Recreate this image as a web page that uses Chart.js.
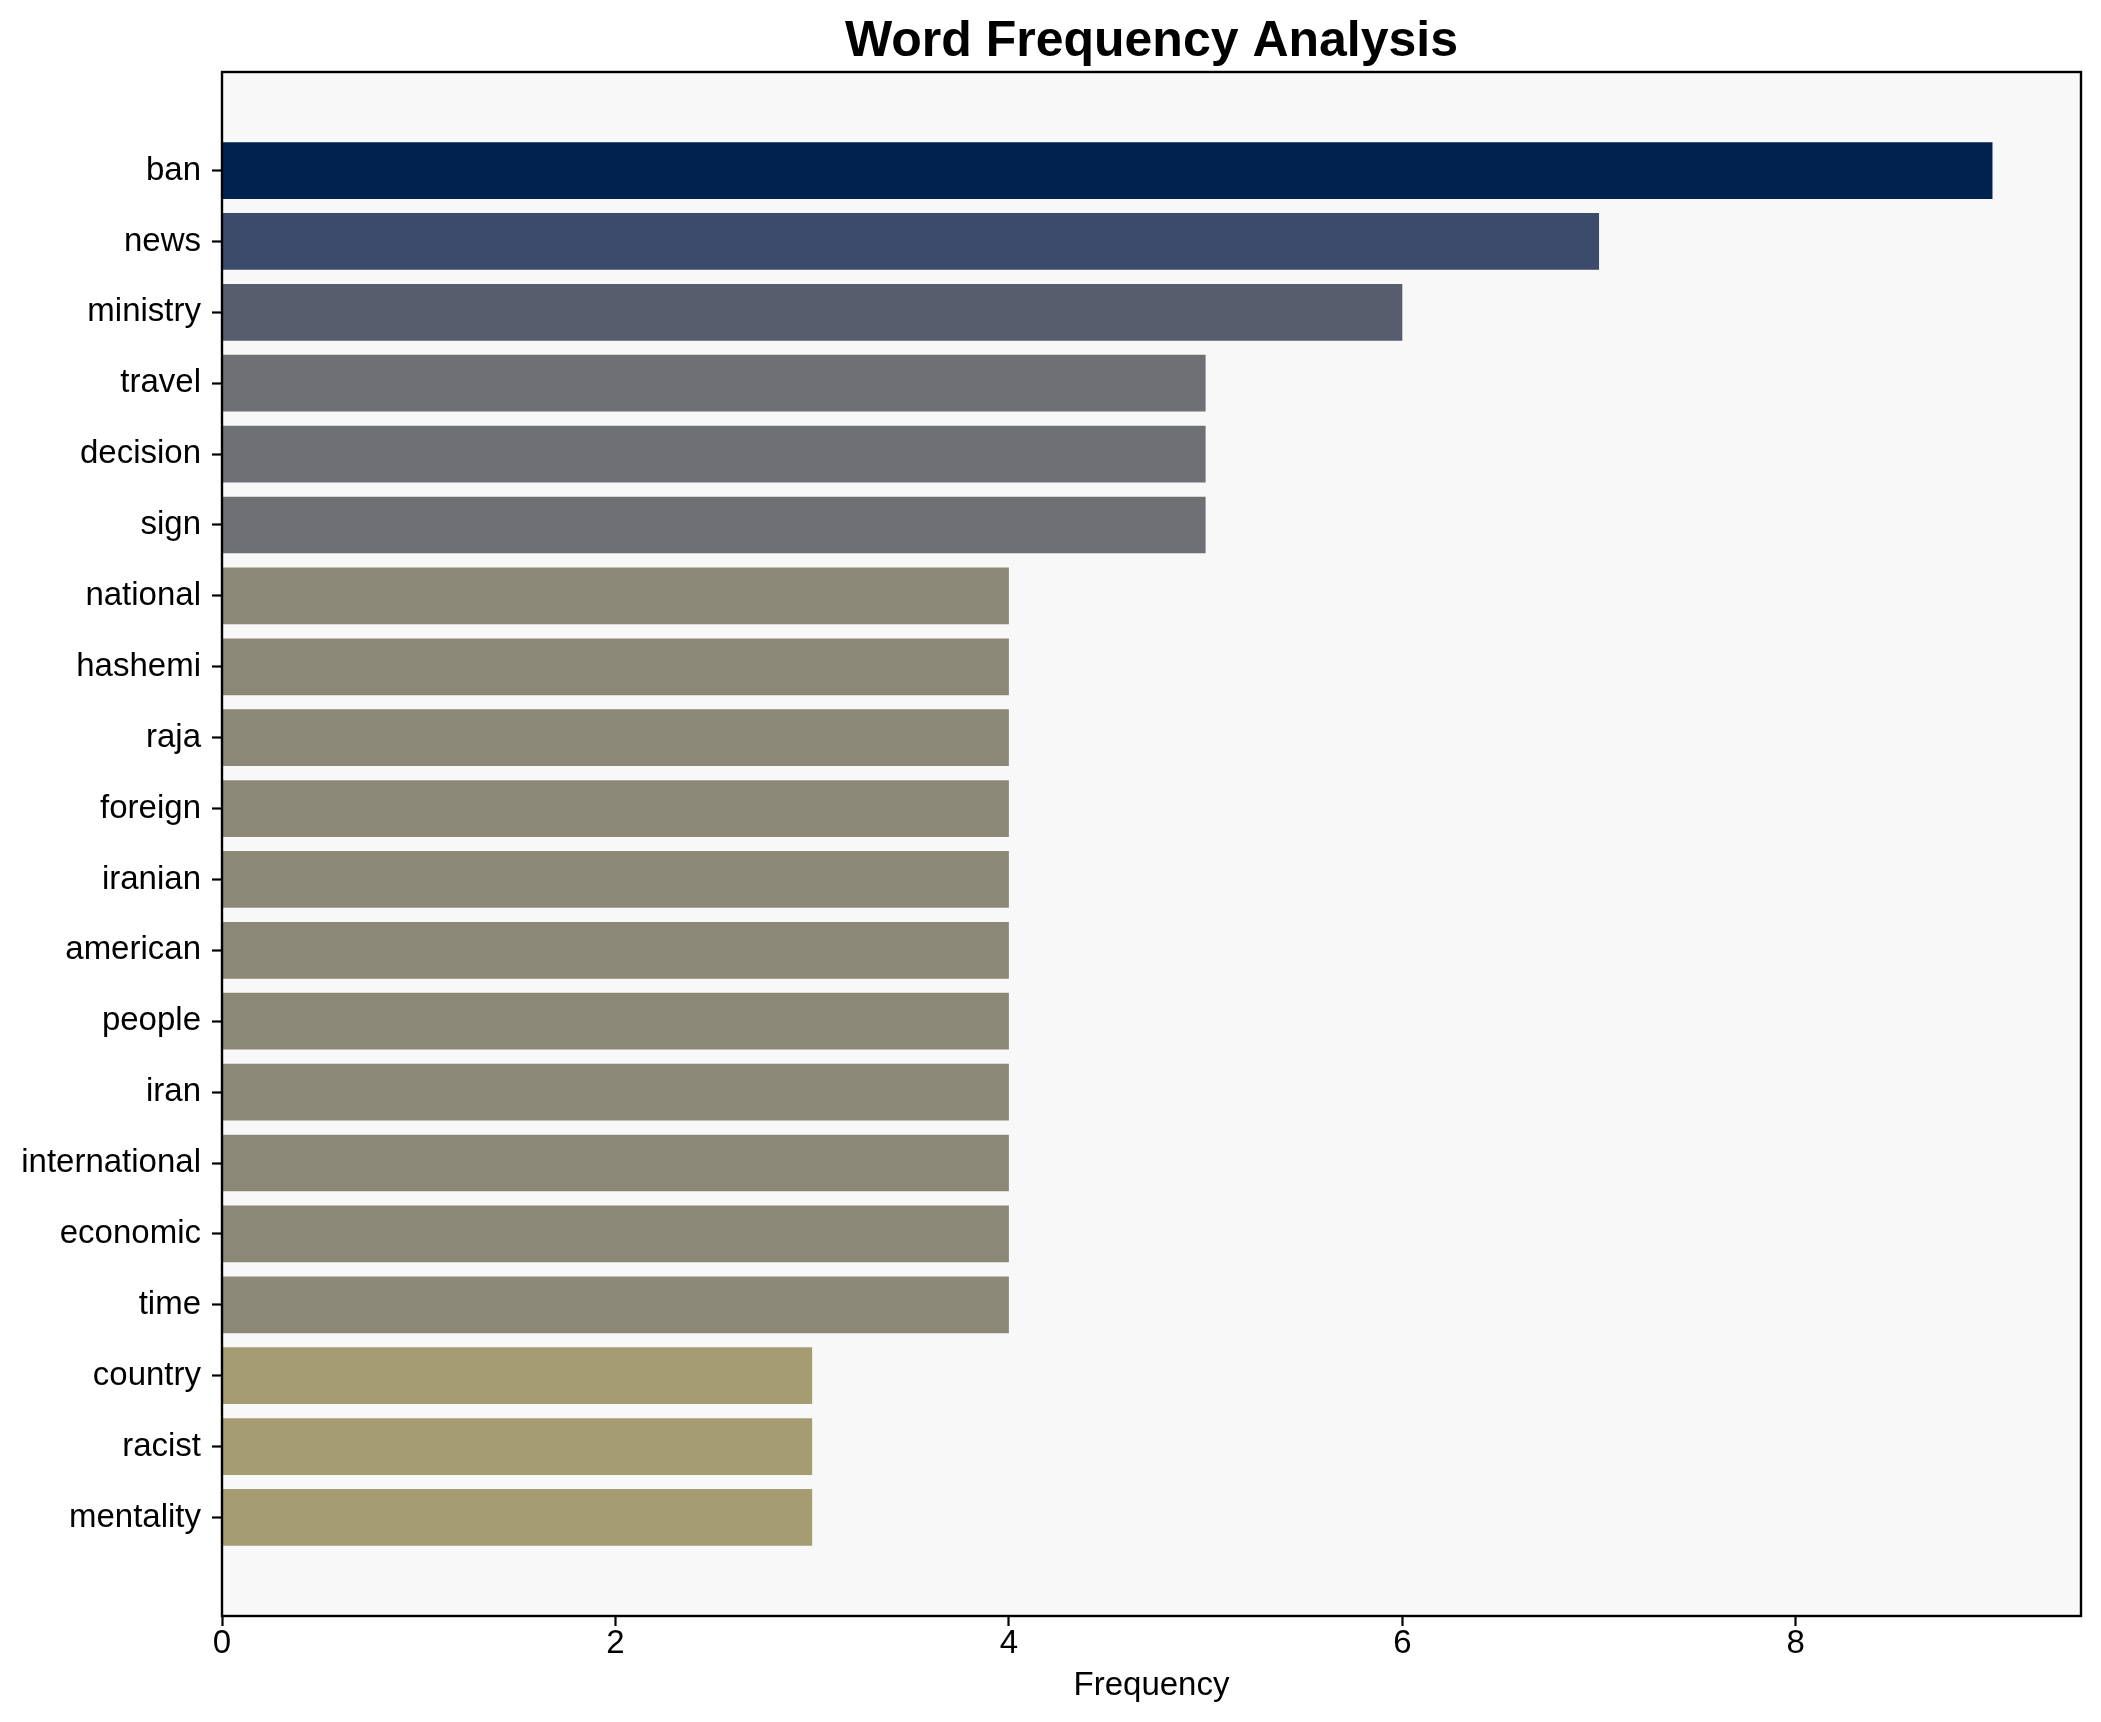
<!DOCTYPE html>
<html>
<head>
<meta charset="utf-8">
<script src="https://cdn.jsdelivr.net/npm/chart.js@4.4.1/dist/chart.umd.min.js"></script>
<style>
  html, body { margin: 0; padding: 0; background: #ffffff; }
  #wrap { width: 2101px; height: 1722px; }
  canvas { display: block; }
</style>
</head>
<body>
<div id="wrap"><canvas id="c" width="2101" height="1722" style="width:2101px;height:1722px"></canvas></div>
<script>
const words = ["ban", "news", "ministry", "travel", "decision", "sign", "national", "hashemi", "raja", "foreign", "iranian", "american", "people", "iran", "international", "economic", "time", "country", "racist", "mentality"];
const frequencies = [9, 7, 6, 5, 5, 5, 4, 4, 4, 4, 4, 4, 4, 4, 4, 4, 4, 3, 3, 3];
const xTickValues = [0, 2, 4, 6, 8];

const barColors = ["#01224f", "#3c4a6b", "#575d6d", "#6f7073", "#6f7073", "#6f7073",
  "#8b8877", "#8b8877", "#8b8877", "#8b8877", "#8b8877", "#8b8877", "#8b8877", "#8b8877",
  "#8b8877", "#8b8877", "#8b8877", "#a59c71", "#a59c71", "#a59c71"];

const FONT = "'Liberation Sans', Arial, Helvetica, sans-serif";

const framePlugin = {
  id: 'frame',
  beforeDraw(chart) {
    const {ctx, chartArea: a} = chart;
    ctx.save();
    ctx.fillStyle = '#ffffff';
    ctx.fillRect(0, 0, chart.width, chart.height);
    ctx.fillStyle = '#f8f8f8';
    ctx.fillRect(a.left, a.top, a.right - a.left, a.bottom - a.top);
    ctx.restore();
  },
  afterDatasetsDraw(chart) {
    const {ctx, chartArea: a} = chart;
    ctx.save();
    ctx.strokeStyle = '#000000';
    ctx.lineWidth = 2.4;
    ctx.strokeRect(a.left, a.top, a.right - a.left, a.bottom - a.top);
    ctx.restore();
  }
};

const points = words.map((w, i) => ({ x: frequencies[i], y: i }));

new Chart(document.getElementById('c'), {
  type: 'bar',
  data: {
    datasets: [{
      data: points,
      backgroundColor: barColors,
      borderWidth: 0,
      barPercentage: 0.8,
      categoryPercentage: 1.0
    }]
  },
  options: {
    indexAxis: 'y',
    responsive: false,
    animation: false,
    devicePixelRatio: 1,
    layout: { padding: { left: 0, right: 20, top: 0, bottom: 0 } },
    plugins: {
      legend: { display: false },
      tooltip: { enabled: false },
      title: {
        display: true,
        fullSize: false,
        text: 'Word Frequency Analysis',
        color: '#000000',
        font: { family: FONT, size: 50, weight: 'bold', lineHeight: 1.2 },
        padding: { top: 12, bottom: 0 }
      }
    },
    scales: {
      x: {
        type: 'linear',
        position: 'bottom',
        min: 0,
        max: 9.45,
        offset: false,
        afterBuildTicks(scale) { scale.ticks = xTickValues.map(v => ({ value: v })); },
        afterFit(scale) { scale.height = 106; },
        ticks: {
          color: '#000000',
          font: { family: FONT, size: 33, lineHeight: 1.0 },
          padding: 1,
          maxRotation: 0,
          callback: (v) => String(v)
        },
        grid: {
          display: true,
          offset: false,
          drawOnChartArea: false,
          drawTicks: true,
          tickLength: 10,
          tickWidth: 2.2,
          tickColor: '#000000'
        },
        border: { display: false },
        title: {
          display: true,
          text: 'Frequency',
          color: '#000000',
          font: { family: FONT, size: 33, lineHeight: 1.2 },
          padding: { top: 0, bottom: 16 }
        }
      },
      y: {
        type: 'linear',
        position: 'left',
        reverse: true,
        offset: false,
        min: -1.39,
        max: 20.39,
        afterBuildTicks(scale) { scale.ticks = words.map((w, i) => ({ value: i })); },
        afterFit(scale) { scale.width = 222; },
        ticks: {
          color: '#000000',
          font: { family: FONT, size: 33, lineHeight: 1.0 },
          padding: 11,
          autoSkip: false,
          callback: (v) => words[v] !== undefined ? words[v] : ''
        },
        grid: {
          display: true,
          offset: false,
          drawOnChartArea: false,
          drawTicks: true,
          tickLength: 10,
          tickWidth: 2.2,
          tickColor: '#000000'
        },
        border: { display: false }
      }
    }
  },
  plugins: [framePlugin]
});
</script>
</body>
</html>
